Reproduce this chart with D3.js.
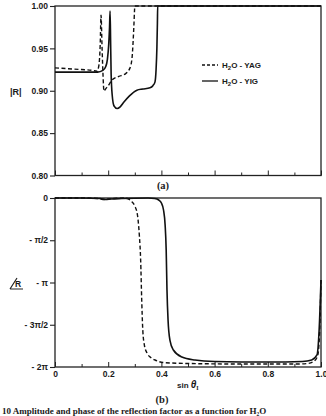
<!DOCTYPE html>
<html>
<head>
<meta charset="utf-8">
<script src="https://cdn.jsdelivr.net/npm/d3@7/dist/d3.min.js"></script>
<style>
  body { margin: 0; background: #fff; }
  svg { display: block; }
  text { font-family: "Liberation Sans", Arial, sans-serif; fill: #1a1a1a; }
</style>
</head>
<body>
<div id="wrapper"></div>
<script>
// values
var yagMagS = [0, 0.05, 0.10, 0.14, 0.158, 0.165, 0.170, 0.173, 0.177, 0.181, 0.184, 0.19, 0.20, 0.214, 0.24, 0.263, 0.282, 0.29, 0.294, 0.297, 0.299, 0.30, 1.0];
var yagMag  = [0.927, 0.926, 0.925, 0.924, 0.923, 0.93, 0.955, 0.989, 0.95, 0.915, 0.8995, 0.902, 0.906, 0.9125, 0.917, 0.9196, 0.927, 0.94, 0.96, 0.98, 0.995, 1.0, 1.0];

var yigMagS = [0, 0.05, 0.10, 0.16, 0.18, 0.19, 0.197, 0.202, 0.205, 0.207, 0.209, 0.211, 0.215, 0.222, 0.234, 0.245, 0.26, 0.28, 0.308, 0.33, 0.357, 0.368, 0.376, 0.380, 0.383, 0.385, 0.386, 1.0];
var yigMag  = [0.922, 0.922, 0.922, 0.922, 0.924, 0.928, 0.937, 0.955, 0.975, 0.994, 0.96, 0.92, 0.895, 0.882, 0.879, 0.881, 0.887, 0.894, 0.9007, 0.902, 0.9035, 0.906, 0.9105, 0.925, 0.95, 0.98, 1.0, 1.0];

var yagPhaseS = [0, 0.10, 0.16, 0.18, 0.20, 0.22, 0.26, 0.275, 0.29, 0.30, 0.31, 0.317, 0.322, 0.326, 0.330, 0.336, 0.346, 0.36, 0.376, 0.406, 0.5, 0.7, 0.9, 0.95, 0.975, 0.988, 0.995, 1.0];
var yagPhase  = [0, 0, -0.019, -0.056, -0.037, -0.019, 0, -0.037, -0.149, -0.297, -0.632, -1.376, -2.305, -3.792, -4.908, -5.466, -5.764, -5.931, -6.023, -6.116, -6.153, -6.172, -6.172, -6.153, -6.06, -5.837, -4.908, -3.049];

var yigPhaseS = [0, 0.10, 0.17, 0.19, 0.21, 0.25, 0.35, 0.375, 0.39, 0.40, 0.408, 0.414, 0.418, 0.421, 0.425, 0.432, 0.445, 0.477, 0.526, 0.6, 0.8, 0.93, 0.965, 0.985, 0.993, 1.0];
var yigPhase  = [0, 0, -0.019, -0.056, -0.037, -0.019, 0, -0.019, -0.074, -0.186, -0.446, -1.004, -1.933, -3.421, -4.536, -5.28, -5.652, -5.912, -6.023, -6.079, -6.098, -6.079, -6.023, -5.837, -4.908, -3.049];

var xMajorTicks = [0, 0.2, 0.4, 0.6, 0.8, 1.0];
var xMinorTicks = [0.1, 0.3, 0.5, 0.7, 0.9];
var xTickLabels = ["0", "0.2", "0.4", "0.6", "0.8", "1.0"];
var magTicks = [0.80, 0.85, 0.90, 0.95, 1.00];
var magTickLabels = ["0.80", "0.85", "0.90", "0.95", "1.00"];
var phaseTicks = [0, -Math.PI / 2, -Math.PI, -3 * Math.PI / 2, -2 * Math.PI];
var phaseTickLabels = ["0", "- \u03c0/2", "- \u03c0", "- 3\u03c0/2", "- 2\u03c0"];
var seriesNames = ["YAG", "YIG"];

function zip(xs, ys) {
  return xs.map(function (x, i) { return [x, ys[i]]; });
}

function drawChart() {
  var dimensions = {
    width: 326,
    height: 416,
    left: 55,
    right: 321,
    a: { top: 6, bottom: 175.5 },
    b: { top: 198, bottom: 367 }
  };

  var wrapper = d3.select("#wrapper")
    .append("svg")
    .attr("width", dimensions.width)
    .attr("height", dimensions.height);

  var xScale = d3.scaleLinear()
    .domain([0, 1])
    .range([dimensions.left, dimensions.right]);

  var magScale = d3.scaleLinear()
    .domain([0.80, 1.00])
    .range([dimensions.a.bottom, dimensions.a.top]);

  var phaseScale = d3.scaleLinear()
    .domain([-2 * Math.PI, 0])
    .range([dimensions.b.bottom, dimensions.b.top]);

  function drawPanel(yScale, ticks, labels, panel, showXLabels) {
    var g = wrapper.append("g");

    // y axis, ticks pointing out
    var yAxis = g.append("g")
      .attr("transform", "translate(" + dimensions.left + ",0)")
      .call(d3.axisLeft(yScale)
        .tickValues(ticks)
        .tickFormat(function (d, i) { return labels[i]; })
        .tickSize(5)
        .tickSizeOuter(0)
        .tickPadding(2));
    yAxis.select(".domain").remove();
    yAxis.selectAll("line").attr("stroke", "#222").attr("stroke-width", 1.1);
    yAxis.selectAll("text")
      .style("font-family", "'Liberation Sans', Arial, sans-serif")
      .style("font-size", "8.5px")
      .style("font-weight", "bold")
      .attr("fill", "#222");

    // x axis ticks point up into the plot
    var xMajor = g.append("g")
      .attr("transform", "translate(0," + panel.bottom + ")")
      .call(d3.axisBottom(xScale)
        .tickValues(xMajorTicks)
        .tickFormat(function (d, i) { return showXLabels ? xTickLabels[i] : ""; })
        .tickSize(-5)
        .tickSizeOuter(0)
        .tickPadding(4));
    xMajor.select(".domain").remove();
    xMajor.selectAll("line").attr("stroke", "#222").attr("stroke-width", 1);
    xMajor.selectAll("text")
      .style("font-family", "'Liberation Sans', Arial, sans-serif")
      .style("font-size", "8.5px")
      .style("font-weight", "bold")
      .attr("fill", "#222");

    var xMinor = g.append("g")
      .attr("transform", "translate(0," + panel.bottom + ")")
      .call(d3.axisBottom(xScale)
        .tickValues(xMinorTicks)
        .tickFormat("")
        .tickSize(-3)
        .tickSizeOuter(0));
    xMinor.select(".domain").remove();
    xMinor.selectAll("line").attr("stroke", "#222").attr("stroke-width", 1);

    // frame
    g.append("rect")
      .attr("x", dimensions.left)
      .attr("y", panel.top)
      .attr("width", dimensions.right - dimensions.left)
      .attr("height", panel.bottom - panel.top)
      .attr("fill", "none")
      .attr("stroke", "#222")
      .attr("stroke-width", 1.3);
    return g;
  }

  var panelA = drawPanel(magScale, magTicks, magTickLabels, dimensions.a, false);
  var panelB = drawPanel(phaseScale, phaseTicks, phaseTickLabels, dimensions.b, true);

  var magLine = d3.line()
    .x(function (d) { return xScale(d[0]); })
    .y(function (d) { return magScale(d[1]); })
    .curve(d3.curveMonotoneX);

  var phaseLine = d3.line()
    .x(function (d) { return xScale(d[0]); })
    .y(function (d) { return phaseScale(d[1]); })
    .curve(d3.curveMonotoneX);

  var dash = "4,2.5";

  panelA.append("path").datum(zip(yagMagS, yagMag))
    .attr("d", magLine).attr("fill", "none")
    .attr("stroke", "#111").attr("stroke-width", 1.4)
    .attr("stroke-dasharray", dash);
  panelA.append("path").datum(zip(yigMagS, yigMag))
    .attr("d", magLine).attr("fill", "none")
    .attr("stroke", "#111").attr("stroke-width", 1.6);

  panelB.append("path").datum(zip(yagPhaseS, yagPhase))
    .attr("d", phaseLine).attr("fill", "none")
    .attr("stroke", "#111").attr("stroke-width", 1.4)
    .attr("stroke-dasharray", dash);
  panelB.append("path").datum(zip(yigPhaseS, yigPhase))
    .attr("d", phaseLine).attr("fill", "none")
    .attr("stroke", "#111").attr("stroke-width", 1.6);

  // legend
  var legend = panelA.append("g").attr("transform", "translate(202,65)");
  seriesNames.forEach(function (name, i) {
    var row = legend.append("g").attr("transform", "translate(0," + (i * 16) + ")");
    row.append("line")
      .attr("x1", 0).attr("x2", 16).attr("y1", 0).attr("y2", 0)
      .attr("stroke", "#111").attr("stroke-width", 1.3)
      .attr("stroke-dasharray", i === 0 ? "3,2" : null);
    var t = row.append("text")
      .attr("x", 20).attr("y", 3)
      .style("font-size", "8px").style("font-weight", "bold");
    t.append("tspan").text("H");
    t.append("tspan").attr("dy", 2).style("font-size", "6px").text("2");
    t.append("tspan").attr("dy", -2).text("O - " + name);
  });

  // axis titles
  wrapper.append("text")
    .attr("x", 10).attr("y", 95)
    .style("font-size", "9px").style("font-weight", "bold")
    .text("|R|");

  var angle = wrapper.append("g");
  angle.append("path")
    .attr("d", "M10,289 L17,278 M10,289 L23,289")
    .attr("stroke", "#222").attr("stroke-width", 1.2).attr("fill", "none");
  angle.append("text")
    .attr("x", 15).attr("y", 287)
    .style("font-size", "8.5px").style("font-weight", "bold")
    .text("R");

  var xTitle = wrapper.append("text")
    .attr("x", 177).attr("y", 388)
    .style("font-size", "8px").style("font-weight", "bold");
  xTitle.append("tspan").text("sin ");
  xTitle.append("tspan").style("font-style", "italic").style("font-size", "10px").text("\u03b8");
  xTitle.append("tspan").attr("dy", 2).style("font-size", "6px").style("font-family", "'Liberation Serif', serif").text("I");

  wrapper.append("text")
    .attr("x", 163).attr("y", 189)
    .attr("text-anchor", "middle")
    .style("font-family", "'Liberation Serif', serif")
    .style("font-size", "10.5px").style("font-weight", "bold")
    .text("(a)");
  wrapper.append("text")
    .attr("x", 162).attr("y", 403)
    .attr("text-anchor", "middle")
    .style("font-family", "'Liberation Serif', serif")
    .style("font-size", "10.5px").style("font-weight", "bold")
    .text("(b)");

  // caption line at the bottom of the scan
  wrapper.append("text")
    .attr("x", 2).attr("y", 414)
    .style("font-family", "'Liberation Serif', serif")
    .style("font-size", "9px").style("font-weight", "bold")
    .text("10  Amplitude and phase of the reflection factor as a function for H\u2082O");
}

drawChart();
</script>
</body>
</html>
